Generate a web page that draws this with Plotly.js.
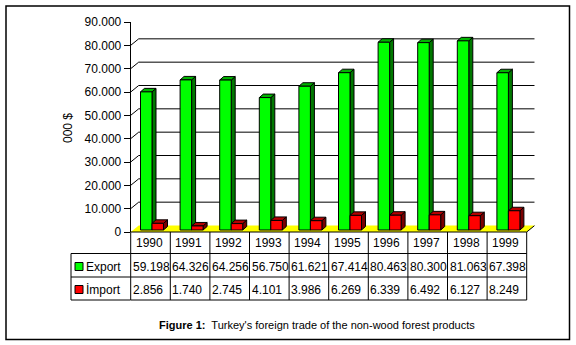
<!DOCTYPE html>
<html><head><meta charset="utf-8">
<script src="https://cdn.plot.ly/plotly-3.0.1.min.js"></script>
<style>html,body{margin:0;padding:0;background:#fff;} #chart{width:576px;height:345px;}</style>
</head><body><div id="chart"></div>
<script>
// ---- data ----
const years = [1990, 1991, 1992, 1993, 1994, 1995, 1996, 1997, 1998, 1999];
const exportValues = [59198, 64326, 64256, 56750, 61621, 67414, 80463, 80300, 81063, 67398];
const importValues = [2856, 1740, 2745, 4101, 3986, 6269, 6339, 6492, 6127, 8249];
const seriesNames = ['Export', 'İmport'];
const yTicks = [0, 10000, 20000, 30000, 40000, 50000, 60000, 70000, 80000, 90000];
const yTitle = '000 $';
const captionBold = 'Figure 1:';
const captionText = "Turkey's foreign trade of the non-wood forest products";

// ---- geometry (pixels) ----
const W = 576, H = 345;
const plotLeft = 130.7, frontRight = 526.7, plotTop = 22, plotBottom = 232;
const depthX = 8, depthY = 6.5;      // back wall offset
const barLift = 2;                   // bar baseline above front edge
const sideX = 4, sideY = 3.5;        // bar depth
const barLeftPx = [-10, 1.5], barWidthPx = 11.5;
const rows = [232, 253.5, 277, 300];
const rowText = [243, 266.5, 289.5];
const legendLeft = 71;

const yMax = yTicks[yTicks.length - 1];
const pxPerY = (plotBottom - plotTop) / yMax;
const catPx = (frontRight - plotLeft) / years.length;
const xMin = years[0] - 0.5;
const xFrontEnd = years[years.length - 1] + 0.5;
const plotRight = frontRight + depthX;
const xMax = xMin + (plotRight - plotLeft) / catPx;
const dX = p => p / catPx;
const dY = p => p / pxPerY;
const px = p => p / W;
const py = p => (H - p) / H;

const greens = {front: '#00ff00', top: '#00b400', side: '#007800'};
const reds = {front: '#ff0000', top: '#b40000', side: '#7a0000'};
const palettes = [greens, reds];
const seriesValues = [exportValues, importValues];
const fmt = v => String(v).replace(/\B(?=(\d{3})+(?!\d))/g, '.');
const FONT = 'Liberation Sans, Arial, sans-serif';

const shapes = [];
// floor
const fx = dX(depthX), fy = dY(depthY);
shapes.push({type: 'path', xref: 'x', yref: 'y', layer: 'below',
  path: `M${xMin},0 L${xFrontEnd},0 L${xFrontEnd + fx},${fy} L${xMin + fx},${fy} Z`,
  fillcolor: '#ffff00', line: {width: 0}});
shapes.push({type: 'line', xref: 'x', yref: 'y', layer: 'below',
  x0: xFrontEnd, y0: 0, x1: xFrontEnd + fx, y1: fy, line: {color: '#000', width: 1}});
// back gridlines and connectors
yTicks.filter(v => v > 0 && v < yMax).forEach(v => {
  shapes.push({type: 'line', xref: 'x', yref: 'y', layer: 'below',
    x0: xMin + fx, x1: xFrontEnd + fx, y0: v + fy, y1: v + fy, line: {color: '#000', width: 1}});
  shapes.push({type: 'line', xref: 'x', yref: 'y', layer: 'below',
    x0: xMin, x1: xMin + fx, y0: v, y1: v + fy, line: {color: '#000', width: 1}});
});
// bar 3D faces
const base = dY(barLift);
const sx = dX(sideX), sy = dY(sideY);
const traces = [];
seriesValues.forEach((vals, s) => {
  const off = dX(barLeftPx[s]), w = dX(barWidthPx), pal = palettes[s];
  vals.forEach((v, i) => {
    const l = years[i] + off, r = l + w, b = base, t = base + v;
    shapes.push({type: 'path', xref: 'x', yref: 'y', layer: 'below',
      path: `M${r},${b} L${r},${t} L${r + sx},${t + sy} L${r + sx},${b + sy} Z`,
      fillcolor: pal.side, line: {color: '#000', width: 1}});
    shapes.push({type: 'path', xref: 'x', yref: 'y', layer: 'below',
      path: `M${l},${t} L${r},${t} L${r + sx},${t + sy} L${l + sx},${t + sy} Z`,
      fillcolor: pal.top, line: {color: '#000', width: 1}});
  });
  traces.push({type: 'bar', x: years, y: vals, base: base, offset: off, width: w,
    name: seriesNames[s], showlegend: false, hoverinfo: 'x+y',
    marker: {color: pal.front, line: {color: '#000', width: 1}}});
});

// table lines
const lineStyle = {color: '#000', width: 1};
shapes.push({type: 'line', xref: 'x', yref: 'paper', layer: 'above', x0: xMin, x1: xFrontEnd, y0: py(rows[0]), y1: py(rows[0]), line: lineStyle});
rows.slice(1).forEach(r => {
  shapes.push({type: 'line', xref: 'paper', yref: 'paper', layer: 'above', x0: px(legendLeft), x1: px(plotLeft), y0: py(r), y1: py(r), line: lineStyle});
  shapes.push({type: 'line', xref: 'x', yref: 'paper', layer: 'above', x0: xMin, x1: xFrontEnd, y0: py(r), y1: py(r), line: lineStyle});
});
shapes.push({type: 'line', xref: 'paper', yref: 'paper', layer: 'above', x0: px(plotLeft), x1: px(plotLeft), y0: py(rows[0]), y1: py(rows[3]), line: lineStyle});
shapes.push({type: 'line', xref: 'paper', yref: 'paper', layer: 'above', x0: px(legendLeft), x1: px(legendLeft), y0: py(rows[1]), y1: py(rows[3]), line: lineStyle});
years.forEach(yr => {
  const xb = yr + 0.5;
  shapes.push({type: 'line', xref: 'x', yref: 'paper', layer: 'above', x0: xb, x1: xb, y0: py(rows[0]), y1: py(rows[3]), line: lineStyle});
});
// legend squares
[greens, reds].forEach((pal, s) => {
  const c = rowText[s + 1];
  shapes.push({type: 'rect', xref: 'paper', yref: 'paper', layer: 'above',
    x0: px(75), x1: px(83), y0: py(c + 4), y1: py(c - 4),
    fillcolor: pal.front, line: {color: '#000', width: 1}});
});
// outer border
shapes.push({type: 'rect', xref: 'paper', yref: 'paper', layer: 'above',
  x0: px(6), x1: px(569.5), y0: py(339.5), y1: py(6), line: {color: '#000', width: 1.5}});

const annotations = [];
const cellFont = {family: FONT, size: 12, color: '#000'};
years.forEach((yr, i) => {
  annotations.push({xref: 'x', yref: 'paper', x: yr - 0.5, xshift: 3, y: py(rowText[0]), xanchor: 'left', yanchor: 'middle', showarrow: false, text: String(yr), font: cellFont});
  seriesValues.forEach((vals, s) => {
    annotations.push({xref: 'x', yref: 'paper', x: yr - 0.5, xshift: 0, y: py(rowText[s + 1]), xanchor: 'left', yanchor: 'middle', showarrow: false, text: fmt(vals[i]), font: cellFont});
  });
});
seriesNames.forEach((n, s) => {
  annotations.push({xref: 'paper', yref: 'paper', x: px(84), y: py(rowText[s + 1]), xanchor: 'left', yanchor: 'middle', showarrow: false, text: n, font: cellFont});
});
annotations.push({xref: 'paper', yref: 'paper', x: px(68), y: py(128), xanchor: 'center', yanchor: 'middle', textangle: -90, showarrow: false, text: yTitle, font: cellFont});
annotations.push({xref: 'paper', yref: 'paper', x: px(316.5), y: py(325), xanchor: 'center', yanchor: 'middle', showarrow: false,
  text: `<b>${captionBold}</b>&nbsp; ${captionText}`, font: {family: FONT, size: 11, color: '#000'}});

const layout = {
  width: W, height: H,
  margin: {l: 0, r: 0, t: 0, b: 0},
  paper_bgcolor: '#fff', plot_bgcolor: 'rgba(0,0,0,0)',
  separators: ',.',
  barmode: 'overlay',
  showlegend: false,
  xaxis: {type: 'linear', domain: [px(plotLeft), px(plotRight)], range: [xMin, xMax],
    showgrid: false, zeroline: false, showline: false, showticklabels: false, ticks: '', fixedrange: true},
  yaxis: {domain: [py(plotBottom), py(plotTop)], range: [0, yMax], tickvals: yTicks, tickformat: ',d',
    showgrid: false, zeroline: false, showline: true, linecolor: '#000', linewidth: 1,
    ticks: 'outside', ticklen: 6, tickcolor: '#000', tickwidth: 1,
    tickfont: {family: FONT, size: 12, color: '#000'}, fixedrange: true},
  shapes: shapes,
  annotations: annotations
};
Plotly.newPlot('chart', traces, layout, {displayModeBar: false, staticPlot: true});
</script>
</body></html>
